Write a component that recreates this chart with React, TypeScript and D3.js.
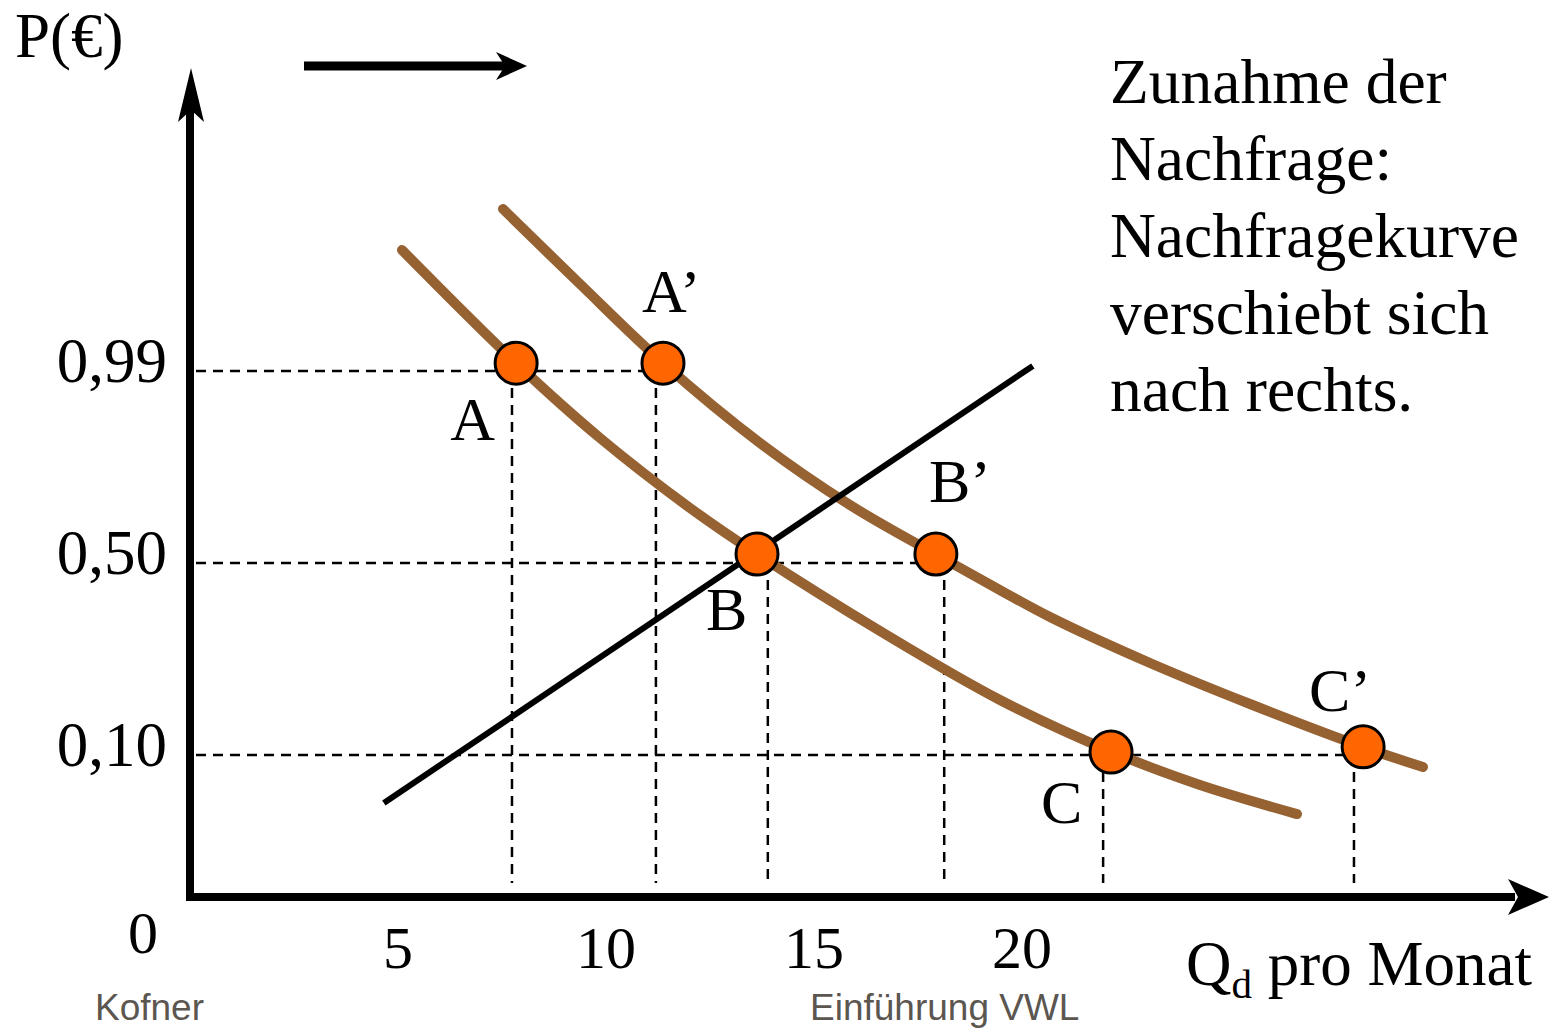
import React, { useLayoutEffect } from "react";
import * as d3 from "d3";

// ---- data ----
const priceLevels = [0.1, 0.5, 0.99];
const priceLabels = ["0,10", "0,50", "0,99"];
const qTicks = [5, 10, 15, 20];
const qTickLabels = ["5", "10", "15", "20"];

// demand curve D1 (original) : [quantity, price]
const demand1: [number, number][] = [
  [5.096, 1.2988], [7.837, 1.0104], [9.856, 0.819], [12.019, 0.6404], [13.63, 0.523],
  [16.587, 0.3583], [19.471, 0.2146], [22.163, 0.1063], [24.28, 0.0789], [26.611, 0.0584],
];
// demand curve D2 (shifted right)
const demand2: [number, number][] = [
  [7.524, 1.4034], [9.375, 1.212], [11.37, 1.0104], [13.702, 0.8063], [15.865, 0.648],
  [17.957, 0.5204], [19.471, 0.4437], [20.673, 0.3875], [23.077, 0.2917], [25.481, 0.2062],
  [28.197, 0.1167], [29.639, 0.0915],
];
// supply line
const supply: [number, number][] = [[4.66, 0.0662], [20.26, 1.003]];

// points (label, marker q, marker p, dashed q, dashed price level)
const pointNames = ["A", "A’", "B", "B’", "C", "C’"];
const markerQ = [7.84, 11.37, 13.63, 17.93, 22.14, 28.2];
const markerP = [1.01, 1.01, 0.523, 0.523, 0.106, 0.117];
const dashQ = [7.74, 11.2, 13.89, 18.13, 21.95, 27.98];
const dashP = [0.99, 0.99, 0.5, 0.5, 0.1, 0.1];
// label placement relative to marker (dx, dy) in px
const labelOffsets: [number, number][] = [[-66, 77], [-21, -51], [-51, 76], [-7, -52], [-70, 71], [-54, -36]];

const textLines = ["Zunahme der", "Nachfrage:", "Nachfragekurve", "verschiebt sich", "nach rechts."];

const W = 1550;
const H = 1028;
const serif = "'Liberation Serif', 'Times New Roman', serif";
const sans = "'Liberation Sans', Arial, sans-serif";
const BROWN = "#976232";
const ORANGE = "#FF6600";

export default function App() {
  useLayoutEffect(() => {
    document.body.style.margin = "0";
  }, []);

  const x = d3.scaleLinear().domain([0, 5]).range([190, 398]);
  const y = d3.scaleLinear().domain([0, 0.1, 0.5, 0.99]).range([897, 755, 563, 371]);

  const curve = d3
    .line<[number, number]>()
    .x((d) => x(d[0]))
    .y((d) => y(d[1]))
    .curve(d3.curveCatmullRom.alpha(0.5));
  const straight = d3
    .line<[number, number]>()
    .x((d) => x(d[0]))
    .y((d) => y(d[1]));

  const x0 = x(0);
  const y0 = y(0);

  const levels = Array.from(new Set(dashP));
  const hDashes = levels.map((lv) => ({
    p: lv,
    qEnd: d3.max(dashQ.filter((_, i) => dashP[i] === lv)) as number,
  }));

  return (
    <svg width={W} height={H} style={{ display: "block", background: "#fff" }} fontFamily={serif}>
      {/* dashed guides */}
      <g stroke="#000" strokeWidth={2.5} strokeDasharray="10 7" fill="none">
        {hDashes.map((h, i) => (
          <line key={"h" + i} x1={x0 + 6} x2={x(h.qEnd)} y1={y(h.p)} y2={y(h.p)} />
        ))}
        {dashQ.map((q, i) => (
          <line key={"v" + i} x1={x(q)} x2={x(q)} y1={y(dashP[i])} y2={y0 - 14} />
        ))}
      </g>

      {/* demand curves */}
      <path d={curve(demand1) || ""} fill="none" stroke={BROWN} strokeWidth={10} strokeLinecap="round" />
      <path d={curve(demand2) || ""} fill="none" stroke={BROWN} strokeWidth={10} strokeLinecap="round" />

      {/* supply line */}
      <path d={straight(supply) || ""} fill="none" stroke="#000" strokeWidth={6} />

      {/* markers */}
      {markerQ.map((q, i) => (
        <circle key={"m" + i} cx={x(q)} cy={y(markerP[i])} r={21} fill={ORANGE} stroke="#000" strokeWidth={3} />
      ))}

      {/* point labels */}
      {pointNames.map((n, i) => (
        <text key={"l" + i} x={x(markerQ[i]) + labelOffsets[i][0]} y={y(markerP[i]) + labelOffsets[i][1]} fontSize={62}>
          {n}
        </text>
      ))}

      {/* axes */}
      <line x1={x0} x2={x0} y1={y0 + 4} y2={100} stroke="#000" strokeWidth={8} />
      <path d={`M${x0 + 1},68 L${x0 + 14},122 L${x0 + 1},110 L${x0 - 12},122 Z`} fill="#000" />
      <line x1={x0 - 4} x2={1515} y1={y0} y2={y0} stroke="#000" strokeWidth={8} />
      <path d={`M1549,${y0} L1508,${y0 - 18} L1518,${y0} L1508,${y0 + 18} Z`} fill="#000" />

      {/* shift arrow */}
      <line x1={304} x2={505} y1={66} y2={66} stroke="#000" strokeWidth={9} />
      <path d="M527,66 L496,52 L505,66 L496,80 Z" fill="#000" />

      {/* y tick labels */}
      {priceLevels.map((p, i) => (
        <text key={"yt" + i} x={167} y={y(p) + 11} fontSize={63} textAnchor="end">
          {priceLabels[i]}
        </text>
      ))}
      <text x={143} y={953} fontSize={60} textAnchor="middle">0</text>

      {/* x tick labels */}
      {qTicks.map((q, i) => (
        <text key={"xt" + i} x={x(q)} y={968} fontSize={60} textAnchor="middle">
          {qTickLabels[i]}
        </text>
      ))}

      {/* axis titles */}
      <text x={15} y={57} fontSize={63}>P(€)</text>
      <text x={1186} y={985} fontSize={63}>
        Q<tspan fontSize={41} dy={13}>d</tspan>
        <tspan dy={-13}> pro Monat</tspan>
      </text>

      {/* explanation */}
      {textLines.map((t, i) => (
        <text key={"t" + i} x={1110} y={103 + i * 77} fontSize={63.5}>
          {t}
        </text>
      ))}

      {/* footer */}
      <text x={95} y={1020} fontSize={37} fill="#5b5650" fontFamily={sans}>Kofner</text>
      <text x={810} y={1020} fontSize={37} fill="#5b5650" fontFamily={sans}>Einführung VWL</text>
    </svg>
  );
}
